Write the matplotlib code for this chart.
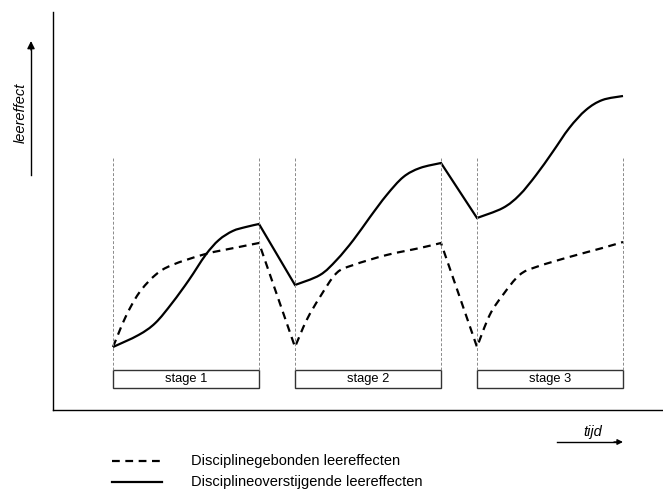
import numpy as np
import matplotlib.pyplot as plt
from matplotlib.patches import Rectangle, PathPatch
from matplotlib.path import Path
from matplotlib.lines import Line2D

plt.rcParams['font.family'] = ['Liberation Sans', 'DejaVu Sans']

# stages along the time axis
stage_labels = ["stage 1", "stage 2", "stage 3"]
stage_starts = [60, 242, 424]
stage_width = 146

# solid curve: discipline-transcending learning effects (fraction of stage, value)
solid_f = [
    [0, 0.175, 0.29, 0.405, 0.52, 0.634, 0.725, 0.82, 0.91, 1.0],
    [0, 0.171, 0.285, 0.40, 0.514, 0.628, 0.742, 0.856, 1.0],
    [0, 0.177, 0.291, 0.405, 0.518, 0.632, 0.746, 0.859, 1.0],
]
solid_y = [
    [63, 75, 87, 107, 130, 155, 170, 179, 183, 186],
    [125, 135, 150, 170, 193, 215, 233, 242, 247],
    [192, 202, 215, 235, 258, 282, 300, 310, 314],
]

# dashed curve: discipline-bound learning effects
dashed_f = [
    [0, 0.086, 0.178, 0.29, 0.405, 0.634, 0.863, 1.0],
    [0, 0.08, 0.171, 0.285, 0.40, 0.628, 0.856, 1.0],
    [0, 0.087, 0.177, 0.291, 0.405, 0.632, 0.859, 1.0],
]
dashed_y = [
    [63, 93, 117, 135, 145, 156, 163, 167],
    [63, 90, 113, 137, 145, 155, 162, 167],
    [63, 95, 115, 135, 143, 153, 162, 168],
]

legend_labels = ["Disciplinegebonden leereffecten",
                 "Disciplineoverstijgende leereffecten"]


def smooth_path(fracs, ys):
    # one path: smooth (Catmull-Rom) inside each stage, straight between stages
    verts, codes = [], []
    for k, (s, f, y) in enumerate(zip(stage_starts, fracs, ys)):
        p = np.column_stack([s + np.array(f) * stage_width, y]).astype(float)
        if k == 0:
            verts.append(p[0]); codes.append(Path.MOVETO)
        else:
            verts.append(p[0]); codes.append(Path.LINETO)
        ext = np.vstack([p[0], p, p[-1]])
        for i in range(1, len(ext) - 2):
            c1 = ext[i] + (ext[i + 1] - ext[i - 1]) / 6
            c2 = ext[i + 1] - (ext[i + 2] - ext[i]) / 6
            verts += [c1, c2, ext[i + 1]]
            codes += [Path.CURVE4] * 3
    return Path(verts, codes)


W, H = 663, 492
fig = plt.figure(figsize=(W / 100, H / 100), dpi=100)
ax = fig.add_axes([53 / W, 1 - 410 / H, 610 / W, 398 / H])
ax.set_xlim(0, 610)
ax.set_ylim(0, 398)
for s in ["top", "right"]:
    ax.spines[s].set_visible(False)
for s in ["left", "bottom"]:
    ax.spines[s].set_linewidth(1.0)
ax.set_xticks([])
ax.set_yticks([])

# stage boundaries and boxes
box_lo, box_hi, guide_top = 22.5, 40, 252
for s, lab in zip(stage_starts, stage_labels):
    for xv in (s, s + stage_width):
        ax.plot([xv, xv], [box_hi, guide_top], color="#8a8a8a", lw=0.7,
                dashes=(3, 2))
    ax.add_patch(Rectangle((s, box_lo), stage_width, box_hi - box_lo,
                           facecolor="white", edgecolor="#333333", lw=1.0))
    ax.text(s + stage_width / 2, (box_lo + box_hi) / 2 - 0.5, lab,
            ha="center", va="center", fontsize=9.3)

ax.add_patch(PathPatch(smooth_path(solid_f, solid_y), fill=False,
                       edgecolor="black", lw=1.6, joinstyle="miter"))
ax.add_patch(PathPatch(smooth_path(dashed_f, dashed_y), fill=False,
                       edgecolor="black", lw=1.6, linestyle=(0, (3.5, 2.5))))


def fx(px):
    return px / W


def fy(py):
    return 1 - py / H


# y-axis arrow and label
fig.add_artist(Line2D([fx(31), fx(31)], [fy(175), fy(48)], color="black", lw=1.0))
ax.annotate("", xy=(fx(31), fy(41)), xytext=(fx(31), fy(50)),
            xycoords="figure fraction", textcoords="figure fraction",
            arrowprops=dict(arrowstyle="-|>", color="black", lw=1.0,
                            mutation_scale=11, shrinkA=0, shrinkB=0))
fig.text(fx(21), fy(113), "leereffect", rotation=90, style="italic",
         ha="center", va="center", fontsize=10.5)

# x-axis arrow and label
fig.add_artist(Line2D([fx(557), fx(616)], [fy(442), fy(442)], color="black", lw=1.0))
ax.annotate("", xy=(fx(623), fy(442)), xytext=(fx(614), fy(442)),
            xycoords="figure fraction", textcoords="figure fraction",
            arrowprops=dict(arrowstyle="-|>", color="black", lw=1.0,
                            mutation_scale=8, shrinkA=0, shrinkB=0))
fig.text(fx(593), fy(432), "tijd", style="italic", ha="center", va="center",
         fontsize=10.5)

# legend
fig.add_artist(Line2D([fx(112), fx(164)], [fy(461), fy(461)], color="black",
                      lw=1.6, dashes=(3.5, 2.5)))
fig.add_artist(Line2D([fx(112), fx(162)], [fy(482), fy(482)], color="black",
                      lw=1.6))
fig.text(fx(191), fy(461), legend_labels[0], ha="left", va="center", fontsize=10.5)
fig.text(fx(191), fy(482), legend_labels[1], ha="left", va="center", fontsize=10.5)

fig.savefig("out.png", dpi=100)
